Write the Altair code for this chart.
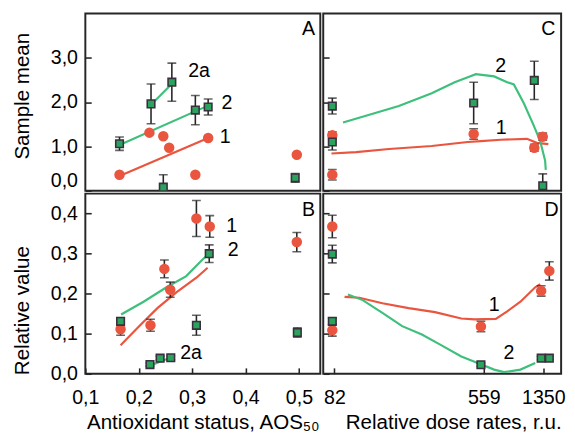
import altair as alt
import pandas as pd

FONT = "Liberation Sans"
RED = "#E9553F"
GLINE = "#3EBF7B"
GPT = "#2AA35C"
DARK = "#262626"
FS = 20
TFS = 21

# ---------------- Panel A (Sample mean vs AOS50) ----------------
a_red_x = [0.164, 0.220, 0.246, 0.257, 0.306, 0.330, 0.496]
a_red_y = [0.36, 1.31, 1.23, 0.97, 0.36, 1.19, 0.81]
a_grn_x = [0.164, 0.223, 0.262, 0.306, 0.330, 0.246, 0.493]
a_grn_y = [1.06, 1.96, 2.45, 1.82, 1.89, 0.08, 0.29]
a_grn_e = [0.15, 0.45, 0.43, 0.33, 0.18, 0.28, 0.10]
a_l1_x = [0.164, 0.330]
a_l1_y = [0.33, 1.19]
a_l2_x = [0.164, 0.330]
a_l2_y = [1.03, 1.92]
a_l2a_x = [0.223, 0.265]
a_l2a_y = [1.94, 2.45]
a_txt = ["2a", "2", "1", "A"]
a_txt_x = [0.313, 0.365, 0.362, 0.518]
a_txt_y = [2.71, 1.98, 1.20, 3.64]

# ---------------- Panel B (Relative value vs AOS50) ----------------
b_red_x = [0.166, 0.222, 0.248, 0.259, 0.308, 0.333, 0.496]
b_red_y = [0.111, 0.121, 0.262, 0.210, 0.388, 0.368, 0.329]
b_red_e = [0.015, 0.015, 0.022, 0.019, 0.045, 0.027, 0.024]
b_grn_x = [0.166, 0.221, 0.240, 0.260, 0.308, 0.332, 0.497]
b_grn_y = [0.131, 0.023, 0.039, 0.040, 0.121, 0.300, 0.103]
b_grn_e = [0.008, 0.004, 0.005, 0.005, 0.025, 0.022, 0.012]
b_l1_x = [0.166, 0.204, 0.235, 0.271, 0.308, 0.329]
b_l1_y = [0.071, 0.123, 0.164, 0.204, 0.240, 0.265]
b_l2_x = [0.167, 0.209, 0.252, 0.289, 0.319, 0.330]
b_l2_y = [0.148, 0.180, 0.216, 0.244, 0.285, 0.298]
b_l2a_x = [0.221, 0.264]
b_l2a_y = [0.020, 0.043]
b_txt = ["1", "2", "2a", "B"]
b_txt_x = [0.374, 0.377, 0.298, 0.518]
b_txt_y = [0.370, 0.310, 0.051, 0.410]

# ---------------- Panel C (Sample mean vs dose rate) ----------------
c_red_x = [80, 80, 485, 1175, 1338]
c_red_y = [1.25, 0.36, 1.28, 0.97, 1.22]
c_red_e = [0.08, 0.12, 0.12, 0.08, 0.08]
c_grn_x = [80, 80, 485, 1175, 1338]
c_grn_y = [1.91, 1.10, 1.98, 2.49, 0.11]
c_grn_e = [0.18, 0.18, 0.47, 0.43, 0.27]
c_l1_x = [79.2, 106, 158.5, 274.4, 446.9, 537, 712.6, 1051, 1221, 1460]
c_l1_y = [0.84, 0.87, 0.94, 1.01, 1.10, 1.12, 1.15, 1.17, 1.08, 1.05]
c_l2_x = [90.7, 119.4, 179.4, 274.4, 373.3, 446.9, 500, 648, 783.5, 864, 1001, 1162, 1286, 1388, 1402]
c_l2_y = [1.54, 1.69, 1.91, 2.20, 2.45, 2.56, 2.63, 2.58, 2.45, 2.40, 1.98, 1.48, 1.12, 0.68, 0.47]
c_txt = ["2", "1", "C"]
c_txt_x = [712, 718, 1460]
c_txt_y = [2.82, 1.42, 3.64]

# ---------------- Panel D (Relative value vs dose rate) ----------------
d_red_x = [80, 80, 537, 1306, 1482]
d_red_y = [0.368, 0.109, 0.118, 0.207, 0.257]
d_red_e = [0.028, 0.015, 0.013, 0.013, 0.023]
d_grn_x = [80, 80, 537, 1306, 1482]
d_grn_y = [0.299, 0.131, 0.0225, 0.039, 0.039]
d_grn_e = [0.022, 0.008, 0.004, 0.004, 0.004]
d_l1_x = [92.4, 110.2, 146.1, 203.3, 286.4, 408.7, 490, 664, 783.5, 953, 1192, 1286]
d_l1_y = [0.192, 0.190, 0.176, 0.164, 0.154, 0.138, 0.136, 0.137, 0.156, 0.180, 0.216, 0.224]
d_l2_x = [96.1, 114.8, 146.1, 187.2, 241.2, 312.7, 408.7, 513, 648, 747.5, 953, 1192]
d_l2_y = [0.198, 0.184, 0.152, 0.119, 0.098, 0.071, 0.043, 0.027, 0.0104, 0.004, 0.0104, 0.027]
d_txt = ["1", "2", "D"]
d_txt_x = [648, 803, 1535]
d_txt_y = [0.172, 0.051, 0.410]

# tick values / labels
aos_ticks = [0.1, 0.2, 0.3, 0.4, 0.5]
dose_ticks = [82, 559, 1350]
mean_ticks = [0, 1, 2, 3]
rel_ticks = [0.0, 0.1, 0.2, 0.3, 0.4]

COMMA = "replace(format(datum.value, '.1f'), '.', ',')"

x_aos = alt.Scale(domain=[0.1, 0.54], nice=False, zero=False)
x_dose = alt.Scale(type="pow", exponent=-0.1, domain=[72, 1785], nice=False, zero=False)
y_mean = alt.Scale(domain=[0, 4.0], nice=False, zero=False)
y_rel = alt.Scale(domain=[0, 0.45], nice=False, zero=False)


def axis(**kw):
    base = dict(grid=False, domain=False, tickSize={"expr": "-6"}, tickColor=DARK,
                tickWidth=1.6, labelFont=FONT, labelFontSize=FS, labelColor="black",
                titleFont=FONT, titleFontSize=TFS, titleFontWeight="normal",
                titleColor="black")
    base.update(kw)
    return alt.Axis(**base)


def panel(xsc, ysc, xax, yax, lines, red, green, texts, w, h):
    def X(f):
        return alt.X(f, type="quantitative", scale=xsc, axis=xax)

    def Y(f):
        return alt.Y(f, type="quantitative", scale=ysc, axis=yax)

    layers = []
    for lx, ly, col in lines:
        df = pd.DataFrame({"x": lx, "y": ly})
        layers.append(alt.Chart(df).mark_line(color=col, strokeWidth=2.2, clip=True)
                      .encode(X("x"), Y("y")))
    for px, py, pe in (red, green):
        if pe is None:
            continue
        df = pd.DataFrame({"x": px, "lo": [a - b for a, b in zip(py, pe)],
                           "hi": [a + b for a, b in zip(py, pe)]})
        base = alt.Chart(df)
        layers.append(base.mark_rule(color=DARK, strokeWidth=1.6, clip=True)
                      .encode(X("x"), Y("lo"), y2="hi"))
        for f in ("lo", "hi"):
            layers.append(base.mark_tick(color=DARK, thickness=1.6, size=9,
                                         orient="horizontal", clip=True)
                          .encode(X("x"), Y(f)))
    rx, ry, _ = red
    layers.append(alt.Chart(pd.DataFrame({"x": rx, "y": ry}))
                  .mark_circle(size=115, color=RED, opacity=1, clip=True)
                  .encode(X("x"), Y("y")))
    gx, gy, _ = green
    layers.append(alt.Chart(pd.DataFrame({"x": gx, "y": gy}))
                  .mark_square(size=60, fill=GPT, stroke="#3a2f3f", strokeWidth=1.6,
                               opacity=1, filled=True, clip=True)
                  .encode(X("x"), Y("y")))
    tt, tx, ty = texts
    layers.append(alt.Chart(pd.DataFrame({"x": tx, "y": ty, "t": tt}))
                  .mark_text(font=FONT, fontSize=FS, color="black")
                  .encode(X("x"), Y("y"), text="t"))
    return alt.layer(*layers).properties(width=w, height=h)


ax_a_y = axis(values=mean_ticks, labelExpr=COMMA, title="Sample mean",
              titlePadding=18, labelPadding=14, labelFlush=True, titleY=84)
ax_c_y = axis(values=mean_ticks, labels=False, title=None)
ax_b_y = axis(values=rel_ticks, labelExpr=COMMA, title="Relative value",
              titlePadding=18, labelPadding=14, labelFlush=False, titleY=119)
ax_b_x = axis(values=aos_ticks, labelExpr=COMMA, title="Antioxidant status, AOS\u2085\u2080",
              labelPadding=20, titlePadding=5, labelFlush=False)
ax_d_y = axis(values=rel_ticks, labels=False, title=None)
ax_d_x = axis(values=dose_ticks, format="d", title="Relative dose rates, r.u.",
              labelPadding=20, titlePadding=5, labelFlush=False, titleAnchor="end")

A = panel(x_aos, y_mean, None, ax_a_y,
          [(a_l1_x, a_l1_y, RED), (a_l2_x, a_l2_y, GLINE), (a_l2a_x, a_l2a_y, GLINE)],
          (a_red_x, a_red_y, None), (a_grn_x, a_grn_y, a_grn_e),
          (a_txt, a_txt_x, a_txt_y), 240, 181)
C = panel(x_dose, y_mean, None, ax_c_y,
          [(c_l1_x, c_l1_y, RED), (c_l2_x, c_l2_y, GLINE)],
          (c_red_x, c_red_y, c_red_e), (c_grn_x, c_grn_y, c_grn_e),
          (c_txt, c_txt_x, c_txt_y), 243, 181)
B = panel(x_aos, y_rel, ax_b_x, ax_b_y,
          [(b_l1_x, b_l1_y, RED), (b_l2_x, b_l2_y, GLINE), (b_l2a_x, b_l2a_y, GLINE)],
          (b_red_x, b_red_y, b_red_e), (b_grn_x, b_grn_y, b_grn_e),
          (b_txt, b_txt_x, b_txt_y), 240, 184)
D = panel(x_dose, y_rel, ax_d_x, ax_d_y,
          [(d_l1_x, d_l1_y, RED), (d_l2_x, d_l2_y, GLINE)],
          (d_red_x, d_red_y, d_red_e), (d_grn_x, d_grn_y, d_grn_e),
          (d_txt, d_txt_x, d_txt_y), 243, 184)

chart = alt.vconcat(
    alt.hconcat(A, C, spacing=0),
    alt.hconcat(B, D, spacing=0),
    spacing=0,
).properties(
    padding={"left": 3, "top": 0, "right": 0, "bottom": 0}
).configure_view(stroke=DARK, strokeWidth=2)

chart.save("out.html", embed_options={"renderer": "svg", "actions": False})
